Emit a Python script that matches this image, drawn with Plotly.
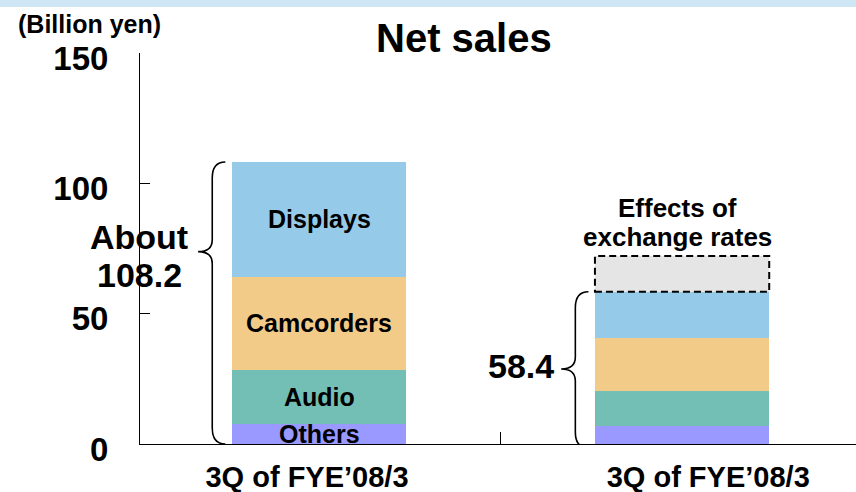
import plotly.graph_objects as go

# ---------------- data ----------------
x_pos = [0, 1]
x_labels = ["3Q of FYE’08/3", "3Q of FYE’08/3"]
segment_names = ["Others", "Audio", "Camcorders", "Displays"]
others = [7.7, 7.0]
audio = [20.7, 13.4]
camcorders = [35.7, 20.4]
displays = [44.1, 17.6]
fx_effect = [13.7]
total_labels = [["About", "108.2"], ["58.4"]]
y_ticks = [0, 50, 100, 150]

# ---------------- style ----------------
FONT = "Liberation Sans, Arial, sans-serif"
colors = {"Others": "#9999ff", "Audio": "#73bfb5",
          "Camcorders": "#f3cb89", "Displays": "#95cbe8"}
BAR_W = 0.48
X_RANGE = [-0.493, 1.479]
PX_PER_UNIT = 391 / 150.0

series = {"Others": others, "Audio": audio,
          "Camcorders": camcorders, "Displays": displays}

fig = go.Figure()
for name in segment_names:
    fig.add_trace(go.Bar(x=x_pos, y=series[name], width=BAR_W,
                         marker=dict(color=colors[name], line=dict(width=0)),
                         name=name, showlegend=False, hoverinfo="skip"))
# effects of exchange rates (stacked on second bar)
fig.add_trace(go.Bar(x=[x_pos[1]], y=fx_effect, width=BAR_W,
                     marker=dict(color="#e5e5e5", line=dict(width=0)),
                     name="Effects of exchange rates", showlegend=False,
                     hoverinfo="skip"))

totals = [sum(series[n][i] for n in segment_names) for i in range(2)]

annotations = []
# segment labels inside first bar
base = 0
for name in segment_names:
    v = series[name][0]
    annotations.append(dict(x=x_pos[0], y=base + v / 2, xref="x", yref="y",
                            text=name, showarrow=False,
                            font=dict(family=FONT, size=25, color="black",
                                      weight="bold"),
                            xanchor="center", yanchor="middle"))
    base += v

# dashed outline of exchange-rate box
fig.add_shape(type="rect", xref="x", yref="y",
              x0=x_pos[1] - BAR_W / 2, x1=x_pos[1] + BAR_W / 2,
              y0=totals[1], y1=totals[1] + fx_effect[0],
              line=dict(color="black", width=2, dash="7px,4px"),
              fillcolor="rgba(0,0,0,0)")


def brace_path(x_end, x_spine, x_tip, y_top, y_tip, y_bot, r_end, r_tip):
    return (f"M {x_end},{y_top} Q {x_spine},{y_top} {x_spine},{y_top - r_end} "
            f"L {x_spine},{y_tip + r_tip} Q {x_spine},{y_tip} {x_tip},{y_tip} "
            f"Q {x_spine},{y_tip} {x_spine},{y_tip - r_tip} "
            f"L {x_spine},{y_bot + r_end} Q {x_spine},{y_bot} {x_end},{y_bot}")


r_end = 16 / PX_PER_UNIT
r_tip = 12 / PX_PER_UNIT
brace_tips = [73.8, 28.8]
brace_bots = [0, -1.5]
for i in range(2):
    edge = x_pos[i] - BAR_W / 2
    fig.add_shape(type="path", xref="x", yref="y",
                  path=brace_path(edge - 0.018, edge - 0.054, edge - 0.093,
                                  totals[i], brace_tips[i], brace_bots[i],
                                  r_end, r_tip),
                  line=dict(color="black", width=1.6))

big = dict(family=FONT, size=34, color="black", weight="bold")
tip0 = x_pos[0] - BAR_W / 2 - 0.093
annotations.append(dict(x=tip0, y=79.4, xref="x", yref="y",
                        text=total_labels[0][0], showarrow=False, font=big,
                        xanchor="center", yanchor="middle", xshift=-59))
annotations.append(dict(x=tip0, y=64.8, xref="x", yref="y",
                        text=total_labels[0][1], showarrow=False, font=big,
                        xanchor="center", yanchor="middle", xshift=-59))
tip1 = x_pos[1] - BAR_W / 2 - 0.093
annotations.append(dict(x=tip1, y=29.9, xref="x", yref="y",
                        text=total_labels[1][0], showarrow=False, font=big,
                        xanchor="right", yanchor="middle", xshift=-5))

mid = dict(family=FONT, size=26, color="black", weight="bold")
annotations.append(dict(x=0.986, y=90.5, xref="x", yref="y",
                        text="Effects of", showarrow=False, font=mid,
                        xanchor="center", yanchor="middle"))
annotations.append(dict(x=0.986, y=79.4, xref="x", yref="y",
                        text="exchange rates", showarrow=False, font=mid,
                        xanchor="center", yanchor="middle"))

# title and unit
annotations.append(dict(x=(464 - 140) / 716, y=1 + (53 - 38) / 391,
                        xref="paper", yref="paper", text="Net sales",
                        showarrow=False,
                        font=dict(family=FONT, size=40, color="black",
                                  weight="bold"),
                        xanchor="center", yanchor="middle"))
annotations.append(dict(x=(89 - 140) / 716, y=1 + (53 - 24) / 391,
                        xref="paper", yref="paper", text="(Billion yen)",
                        showarrow=False,
                        font=dict(family=FONT, size=25, color="black",
                                  weight="bold"),
                        xanchor="center", yanchor="middle"))

# top band
fig.add_shape(type="rect", xref="paper", yref="paper",
              x0=-140 / 716, x1=1, y0=1 + (53 - 7) / 391, y1=1 + 53 / 391,
              fillcolor="#cfe6f5", line=dict(width=0), layer="below")

fig.update_layout(
    width=856, height=492, autosize=False,
    margin=dict(l=140, r=0, t=53, b=48, pad=0),
    paper_bgcolor="white", plot_bgcolor="white",
    barmode="stack", bargap=0,
    showlegend=False,
    annotations=annotations,
    xaxis=dict(range=X_RANGE, showline=True, linecolor="black", linewidth=1,
               showgrid=False, zeroline=False, fixedrange=True,
               automargin=False,
               tickmode="array", tickvals=[-0.033, 1.072], ticktext=x_labels,
               ticks="", ticklabelstandoff=7,
               tickfont=dict(family=FONT, size=29, color="black",
                             weight="bold"),
               minor=dict(tickmode="array", tickvals=[0.5], ticks="inside",
                          ticklen=12, tickcolor="black", tickwidth=1,
                          showgrid=False)),
    yaxis=dict(range=[0, 150], showline=True, linecolor="black", linewidth=1,
               showgrid=False, zeroline=False, fixedrange=True,
               automargin=False,
               tickmode="array", tickvals=y_ticks,
               ticks="inside", ticklen=10, tickcolor="black", tickwidth=1,
               ticklabelstandoff=24, ticklabelshift=5,
               tickfont=dict(family=FONT, size=33, color="black",
                             weight="bold")),
)

fig.write_html("out.html", config={"displayModeBar": False},
               post_script="document.body.style.margin='0';"
                           "document.body.style.overflow='hidden';")
